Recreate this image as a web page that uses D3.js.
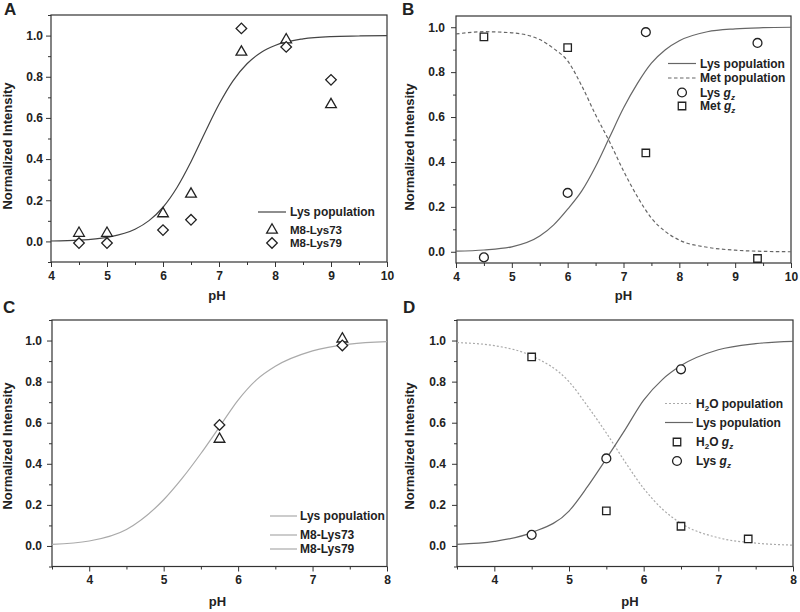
<!DOCTYPE html>
<html><head><meta charset="utf-8">
<script src="https://cdn.jsdelivr.net/npm/d3@7"></script>
<style>
body{margin:0;background:#fff;}
svg{display:block;font-family:"Liberation Sans",Arial,sans-serif;font-weight:bold;}
</style></head>
<body><svg id="c" width="800" height="612"></svg>
<script>
// ---------- DATA ----------
// Panel A
const pH_A = [4.5, 5, 6, 6.5, 7.4, 8.2, 9];
const lys73_A = [0.04, 0.04, 0.135, 0.23, 0.92, 0.98, 0.665];
const lys79_A = [-0.008, -0.008, 0.055, 0.105, 1.035, 0.945, 0.785];
const curvePH_A = [4, 4.5, 5, 5.5, 5.75, 6, 6.25, 6.5, 6.75, 7, 7.25, 7.5, 7.75, 8, 8.5, 9, 9.5, 10];
const lysPop_A = [0.002, 0.006, 0.02, 0.059, 0.101, 0.166, 0.262, 0.387, 0.529, 0.666, 0.78, 0.863, 0.918, 0.952, 0.984, 0.995, 0.998, 1.0];
// Panel B
const pH_B = [4.5, 6, 7.4, 9.4];
const lysGz_B = [-0.025, 0.262, 0.978, 0.93];
const metGz_B = [0.957, 0.909, 0.44, -0.03];
const curvePH_B = [4, 4.5, 5, 5.5, 5.75, 6, 6.25, 6.5, 6.75, 7, 7.25, 7.5, 7.75, 8, 8.5, 9, 9.5, 10];
const lysPop_B = [0.003, 0.008, 0.022, 0.07, 0.12, 0.19, 0.27, 0.38, 0.51, 0.64, 0.75, 0.84, 0.9, 0.94, 0.98, 0.993, 0.998, 1.0];
const metPop_B = [0.97, 0.98, 0.975, 0.945, 0.905, 0.85, 0.74, 0.61, 0.49, 0.36, 0.245, 0.15, 0.09, 0.052, 0.02, 0.007, 0.002, 0.0];
// Panel C
const pH_C = [5.75, 7.4];
const lys73_C = [0.52, 1.008];
const lys79_C = [0.589, 0.976];
const curvePH_C = [3.5, 4, 4.5, 5, 5.25, 5.5, 5.75, 6, 6.25, 6.5, 7, 7.5, 8];
const lysPop_C = [0.008, 0.024, 0.08, 0.225, 0.33, 0.45, 0.58, 0.71, 0.81, 0.875, 0.95, 0.983, 0.995];
// Panel D
const pH_D_h2o = [4.5, 5.5, 6.5, 7.4];
const h2oGz_D = [0.92, 0.171, 0.096, 0.034];
const pH_D_lys = [4.5, 5.5, 6.5];
const lysGz_D = [0.054, 0.426, 0.86];
const curvePH_D = [3.5, 4, 4.5, 5, 5.25, 5.5, 5.75, 6, 6.25, 6.5, 7, 7.5, 8];
const lysPop_D = [0.008, 0.022, 0.065, 0.17, 0.29, 0.425, 0.565, 0.71, 0.81, 0.878, 0.955, 0.985, 0.996];
const h2oPop_D = [0.99, 0.975, 0.925, 0.8, 0.68, 0.55, 0.41, 0.28, 0.18, 0.11, 0.04, 0.014, 0.004];
// Ticks
const xTicksAB = [4, 5, 6, 7, 8, 9, 10];
const xTicksCD = [4, 5, 6, 7, 8];
const yTicks = [0, 0.2, 0.4, 0.6, 0.8, 1.0];

// ---------- DRAWING ----------
const svg = d3.select("#c");
const TXT = "#222";
const MK = "#222";

const sym = {
  tri: d3.symbol().type(d3.symbolTriangle).size(50),
  dia: d3.symbol().type(d3.symbolSquare).size(56),
  cir: d3.symbol().type(d3.symbolCircle).size(62),
  sq: d3.symbol().type(d3.symbolSquare).size(56)
};
function marker(g, type, x, y) {
  g.append("path").attr("d", sym[type]())
    .attr("transform", `translate(${x},${y})` + (type === "dia" ? " rotate(45)" : ""))
    .attr("fill", "#fff").attr("stroke", MK).attr("stroke-width", 1.3);
}

function addLabel(sel, parts) {
  parts.forEach(p => {
    const ts = sel.append("tspan").text(p.t);
    if (p.it) ts.attr("font-style", "italic");
    if (p.sub) ts.attr("font-size", 8).attr("dy", 3);
    if (p.up) ts.attr("dy", -3);
  });
}

function panel(cfg) {
  const g = svg.append("g");
  const x = d3.scaleLinear().domain(cfg.xd).range(cfg.xr);
  const y = d3.scaleLinear().domain(cfg.yd).range(cfg.yr);
  const [x0, x1] = cfg.xr, [y0, y1] = cfg.yr;

  const xMinor = d3.range(cfg.xd[0], cfg.xd[1] + 0.001, 0.5).filter(v => !cfg.xt.includes(v));
  const yMinor = d3.range(-0.1, 1.11, 0.1).map(v => Math.round(v * 10) / 10)
    .filter(v => !yTicks.includes(v) && v >= cfg.yd[0] - 1e-6 && v <= cfg.yd[1] + 1e-6);

  g.append("g").attr("transform", `translate(0,${y0})`)
    .call(d3.axisBottom(x).tickValues(cfg.xt).tickFormat(d3.format("d")).tickSize(5).tickPadding(4));
  g.append("g").attr("transform", `translate(0,${y0})`)
    .call(d3.axisBottom(x).tickValues(xMinor).tickFormat("").tickSize(3));
  g.append("g").attr("transform", `translate(${x0},0)`)
    .call(d3.axisLeft(y).tickValues(yTicks).tickFormat(d3.format(".1f")).tickSize(5).tickPadding(cfg.yPad));
  g.append("g").attr("transform", `translate(${x0},0)`)
    .call(d3.axisLeft(y).tickValues(yMinor).tickFormat("").tickSize(3));
  g.selectAll(".domain").remove();
  g.selectAll(".tick line").attr("stroke", "#333").attr("stroke-width", 1);
  g.selectAll(".tick text").attr("font-size", 12).attr("font-weight", "bold")
    .attr("font-family", "Liberation Sans, Arial, sans-serif").attr("fill", TXT);

  g.append("rect").attr("x", x0).attr("y", y1).attr("width", x1 - x0).attr("height", y0 - y1)
    .attr("fill", "none").attr("stroke", "#333").attr("stroke-width", 1.2);

  const clipId = "clip" + cfg.id;
  g.append("clipPath").attr("id", clipId).append("rect")
    .attr("x", x0).attr("y", y1).attr("width", x1 - x0).attr("height", y0 - y1);
  cfg.curves.forEach(c => {
    const line = d3.line().x((d, i) => x(c.xs[i])).y(d => y(d)).curve(d3.curveMonotoneX);
    g.append("path").attr("d", line(c.ys)).attr("fill", "none")
      .attr("stroke", c.color).attr("stroke-width", c.w || 1.2)
      .attr("stroke-dasharray", c.dash || null).attr("clip-path", `url(#${clipId})`);
  });
  cfg.points.forEach(p => {
    p.ys.forEach((v, i) => marker(g, p.type, x(p.xs[i]), y(v)));
  });

  cfg.legend.forEach(L => {
    if (L.line) {
      g.append("line").attr("x1", L.lx0).attr("x2", L.lx1).attr("y1", L.y).attr("y2", L.y)
        .attr("stroke", L.line.color).attr("stroke-width", L.line.w || 1.2)
        .attr("stroke-dasharray", L.line.dash || null);
    } else {
      marker(g, L.mk, L.mx, L.y);
    }
    const t = g.append("text").attr("x", L.tx).attr("y", L.y).attr("dy", "0.36em")
      .attr("font-size", L.fs || 12).attr("fill", TXT);
    addLabel(t, L.label);
  });

  g.append("text").attr("x", (x0 + x1) / 2 + cfg.pHdx).attr("y", cfg.pHy).attr("text-anchor", "middle")
    .attr("font-size", 13).attr("fill", TXT).text("pH");
  g.append("text").attr("transform", `translate(${cfg.ytx},${cfg.yty}) rotate(-90)`)
    .attr("text-anchor", "middle").attr("font-size", 13).attr("fill", TXT).text("Normalized Intensity");
  g.append("text").attr("x", cfg.lx).attr("y", cfg.ly).attr("font-size", 17).attr("fill", TXT).text(cfg.letter);
}

const dark = "#444", mid = "#666", light = "#aaa";

panel({
  id: "A", letter: "A", lx: 4, ly: 15,
  xd: [4, 10], xr: [51, 387], yd: [-0.1, 1.1], yr: [262, 15], xt: xTicksAB, yPad: 3,
  pHy: 300, pHdx: -2, ytx: 12, yty: 146,
  curves: [{ xs: curvePH_A, ys: lysPop_A, color: dark }],
  points: [{ xs: pH_A, ys: lys73_A, type: "tri" }, { xs: pH_A, ys: lys79_A, type: "dia" }],
  legend: [
    { line: { color: dark }, lx0: 258, lx1: 286, y: 212, tx: 290, label: [{ t: "Lys population" }] },
    { mk: "tri", mx: 272, y: 230, tx: 290, fs: 11.5, label: [{ t: "M8-Lys73" }] },
    { mk: "dia", mx: 272, y: 243, tx: 290, fs: 11.5, label: [{ t: "M8-Lys79" }] }
  ]
});

panel({
  id: "B", letter: "B", lx: 402, ly: 15,
  xd: [4, 10], xr: [456, 791], yd: [-0.05, 1.05], yr: [263, 16], xt: xTicksAB, yPad: 6,
  pHy: 300, pHdx: 0, ytx: 414, yty: 147,
  curves: [{ xs: curvePH_B, ys: lysPop_B, color: mid }, { xs: curvePH_B, ys: metPop_B, color: mid, dash: "3.5,2.5" }],
  points: [{ xs: pH_B, ys: lysGz_B, type: "cir" }, { xs: pH_B, ys: metGz_B, type: "sq" }],
  legend: [
    { line: { color: mid }, lx0: 668, lx1: 696, y: 63.5, tx: 700, label: [{ t: "Lys population" }] },
    { line: { color: mid, dash: "3.5,2.5" }, lx0: 668, lx1: 696, y: 78, tx: 700, label: [{ t: "Met population" }] },
    { mk: "cir", mx: 682, y: 92.5, tx: 700, label: [{ t: "Lys " }, { t: "g", it: true }, { t: "z", it: true, sub: true }] },
    { mk: "sq", mx: 682, y: 106, tx: 700, label: [{ t: "Met " }, { t: "g", it: true }, { t: "z", it: true, sub: true }] }
  ]
});

panel({
  id: "C", letter: "C", lx: 3, ly: 313,
  xd: [3.5, 8], xr: [52, 387], yd: [-0.1, 1.1], yr: [566.5, 320], xt: xTicksCD, yPad: 5,
  pHy: 606, pHdx: -2, ytx: 12, yty: 446,
  curves: [{ xs: curvePH_C, ys: lysPop_C, color: light }],
  points: [{ xs: pH_C, ys: lys73_C, type: "tri" }, { xs: pH_C, ys: lys79_C, type: "dia" }],
  legend: [
    { line: { color: light }, lx0: 270, lx1: 297, y: 516, tx: 300, label: [{ t: "Lys population" }] },
    { line: { color: light }, lx0: 270, lx1: 297, y: 535, tx: 300, label: [{ t: "M8-Lys73" }] },
    { line: { color: light }, lx0: 270, lx1: 297, y: 549, tx: 300, label: [{ t: "M8-Lys79" }] }
  ]
});

panel({
  id: "D", letter: "D", lx: 403, ly: 313,
  xd: [3.5, 8], xr: [457, 793], yd: [-0.1, 1.1], yr: [566.5, 320], xt: xTicksCD, yPad: 6,
  pHy: 606, pHdx: 5, ytx: 414, yty: 446,
  curves: [{ xs: curvePH_D, ys: h2oPop_D, color: light, dash: "2,2" }, { xs: curvePH_D, ys: lysPop_D, color: mid }],
  points: [{ xs: pH_D_h2o, ys: h2oGz_D, type: "sq" }, { xs: pH_D_lys, ys: lysGz_D, type: "cir" }],
  legend: [
    { line: { color: light, dash: "2,2" }, lx0: 665, lx1: 693, y: 403.5, tx: 696, label: [{ t: "H" }, { t: "2", sub: true }, { t: "O population", up: true }] },
    { line: { color: mid }, lx0: 665, lx1: 693, y: 422.5, tx: 696, label: [{ t: "Lys population" }] },
    { mk: "sq", mx: 677, y: 442, tx: 696, label: [{ t: "H" }, { t: "2", sub: true }, { t: "O ", up: true }, { t: "g", it: true }, { t: "z", it: true, sub: true }] },
    { mk: "cir", mx: 677, y: 461, tx: 696, label: [{ t: "Lys " }, { t: "g", it: true }, { t: "z", it: true, sub: true }] }
  ]
});
</script></body></html>
